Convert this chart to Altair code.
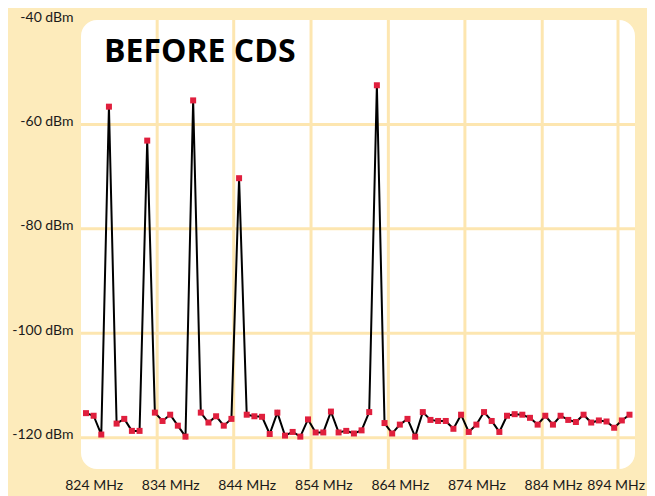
import altair as alt
import pandas as pd

# ---- data ----
freq_mhz = list(range(823, 895))  # 72 samples, 1 MHz apart
level_dbm = [
    -115.3, -115.8, -119.4, -56.6, -117.3, -116.4, -118.7, -118.7, -63.1, -115.2,
    -116.8, -115.6, -117.7, -119.8, -55.4, -115.2, -117.1, -115.9, -117.7, -116.4,
    -70.3, -115.6, -115.9, -116.0, -119.3, -115.2, -119.6, -118.9, -119.8, -116.5,
    -119.0, -119.0, -115.0, -119.0, -118.7, -119.2, -118.6, -115.1, -52.5, -117.2,
    -119.2, -117.5, -116.4, -119.8, -115.1, -116.6, -116.8, -116.8, -118.3, -115.6,
    -118.9, -117.5, -115.1, -116.8, -118.9, -115.8, -115.5, -115.6, -116.2, -117.5,
    -115.8, -117.5, -115.8, -116.6, -117.0, -115.6, -117.1, -116.7, -116.9, -118.1,
    -116.7, -115.6,
]
x_tick_values = [824, 834, 844, 854, 864, 874, 884, 894]
y_tick_values = [-120, -100, -80, -60, -40]
v_grid_mhz = [832.3, 842.3, 852.4, 862.5, 872.5, 882.6, 892.5]
h_grid_dbm = [-120, -100, -80, -60]
title_text = "BEFORE CDS"

BG = "#fdebbb"
GRID = "#fde6b0"
RED = "#e01f3d"

df = pd.DataFrame({"freq": freq_mhz, "level": level_dbm})
vg = pd.DataFrame({"freq": v_grid_mhz})
hg = pd.DataFrame({"level": h_grid_dbm})

xscale = alt.Scale(domain=[822.35, 894.72], nice=False, zero=False)
yscale = alt.Scale(domain=[-126, -40], nice=False, zero=False)

xaxis = alt.Axis(
    values=x_tick_values,
    labelExpr="datum.value + ' MHz'",
    grid=False, domain=False, ticks=False, title=None,
    labelFont="Lato", labelFontSize=14, labelColor="#1a1a1a",
    labelPadding=9, labelFlush=8, labelFlushOffset=15, labelOverlap=False,
)
yaxis = alt.Axis(
    values=y_tick_values,
    labelExpr="datum.value + ' dBm'",
    grid=False, domain=False, ticks=False, title=None,
    labelFont="Lato", labelFontSize=14, labelColor="#1a1a1a",
    labelPadding=8, labelOffset=-3, labelFlush=False, labelOverlap=False,
)

X = alt.X("freq:Q", scale=xscale, axis=xaxis)
Y = alt.Y("level:Q", scale=yscale, axis=yaxis)

vrules = alt.Chart(vg).mark_rule(color=GRID, strokeWidth=3).encode(x=X)
hrules = alt.Chart(hg).mark_rule(color=GRID, strokeWidth=3).encode(y=Y)

line = alt.Chart(df).mark_line(color="black", strokeWidth=2).encode(x=X, y=Y)

points = alt.Chart(df).mark_square(size=36, color=RED, opacity=1).encode(x=X, y=Y)

title = alt.Chart(pd.DataFrame({"t": [title_text]})).mark_text(
    font="Open Sans", fontSize=32, fontWeight="bold", color="black",
    align="left", baseline="alphabetic",
).encode(x=alt.value(23), y=alt.value(42), text="t:N")

chart = (
    alt.layer(vrules, hrules, line, points, title)
    .properties(
        width=554,
        height=449,
        autosize=alt.AutoSizeParams(type="none"),
        padding={"left": 73, "top": 12, "right": 12, "bottom": 27},
    )
    .configure(background=BG)
    .configure_view(fill="white", stroke=None, cornerRadius=16)
)

chart.save("out.html", embed_options={"renderer": "svg", "actions": False})
